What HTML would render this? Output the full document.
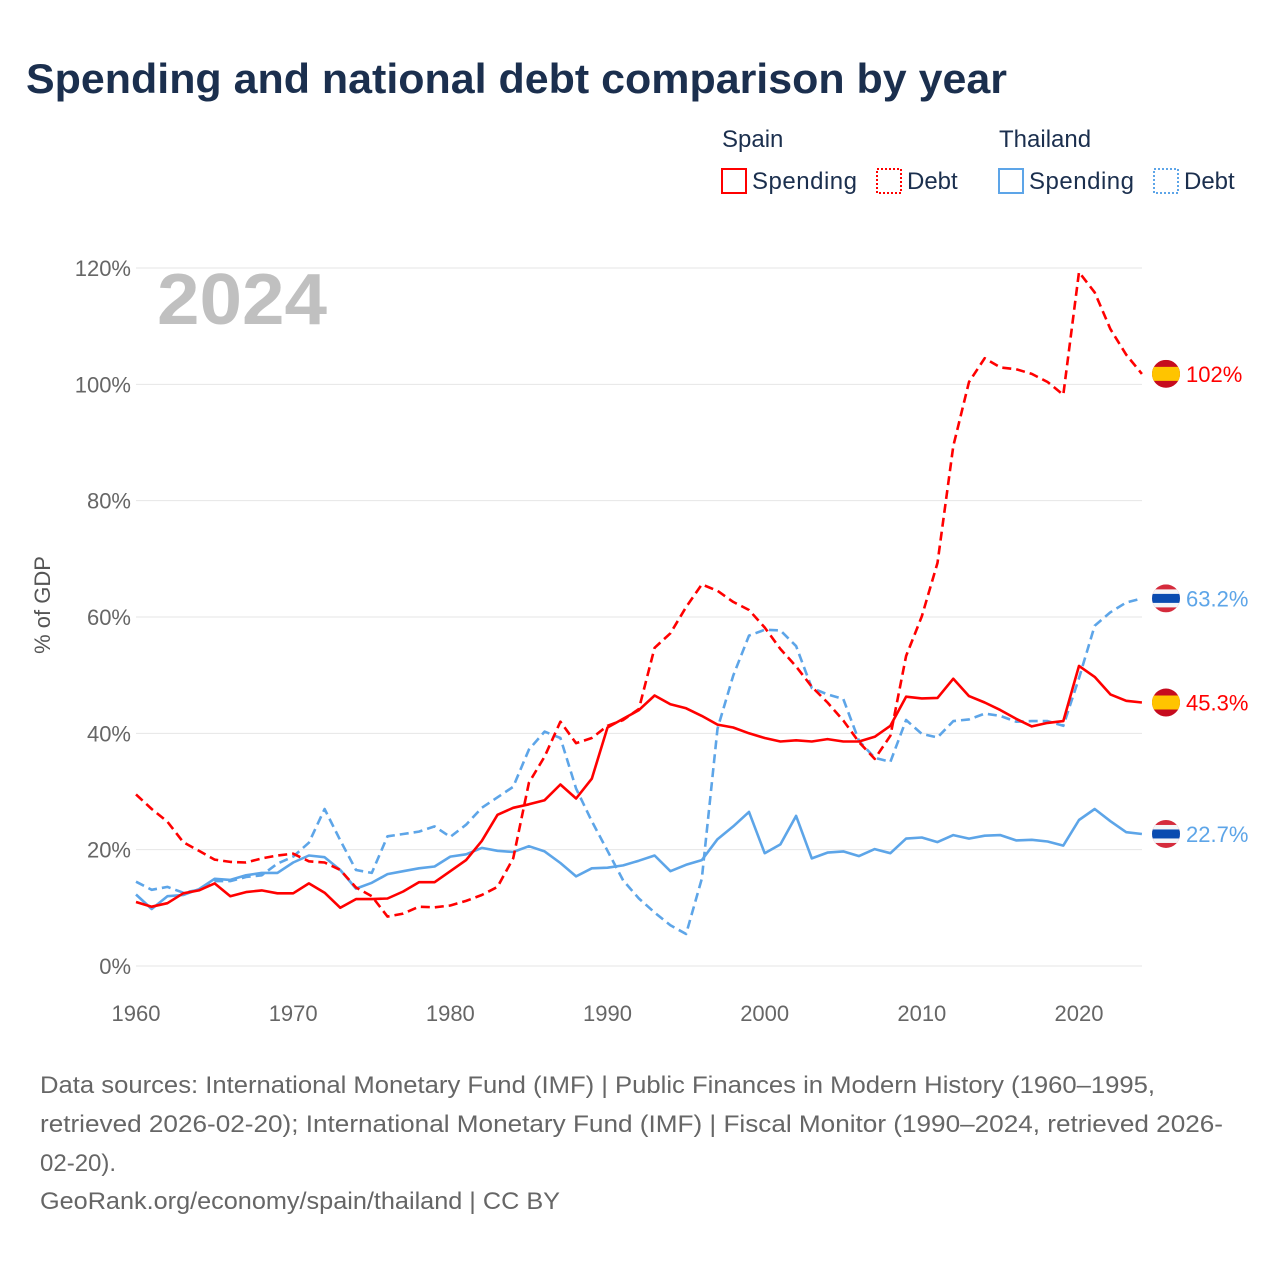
<!DOCTYPE html>
<html><head><meta charset="utf-8"><style>
body{margin:0;background:#fff;width:1280px;height:1280px;overflow:hidden;font-family:"Liberation Sans",sans-serif}
svg text{font-family:"Liberation Sans",sans-serif}
</style></head><body>
<svg id="chart" width="1280" height="1280" viewBox="0 0 1280 1280">
<text x="26" y="93" font-size="42" font-weight="bold" fill="#1b2f4e" textLength="981" lengthAdjust="spacingAndGlyphs">Spending and national debt comparison by year</text>
<g>
<text x="722" y="147" font-size="24" fill="#1b2f4e">Spain</text>
<text x="999" y="147" font-size="24" fill="#1b2f4e">Thailand</text>
<rect x="722" y="169" width="24" height="24" fill="none" stroke="#ff0000" stroke-width="2"/>
<text x="752" y="189" font-size="24" fill="#1b2f4e" textLength="105">Spending</text>
<rect x="877" y="169" width="24" height="24" fill="none" stroke="#ff0000" stroke-width="2" stroke-dasharray="2,2"/>
<text x="907" y="189" font-size="24" fill="#1b2f4e">Debt</text>
<rect x="999" y="169" width="24" height="24" fill="none" stroke="#5da5e8" stroke-width="2"/>
<text x="1029" y="189" font-size="24" fill="#1b2f4e" textLength="105">Spending</text>
<rect x="1154" y="169" width="24" height="24" fill="none" stroke="#5da5e8" stroke-width="2" stroke-dasharray="2,2"/>
<text x="1184" y="189" font-size="24" fill="#1b2f4e">Debt</text>
</g>
<text x="157" y="324" font-size="72" font-weight="bold" fill="#c0c0c0" textLength="170" lengthAdjust="spacingAndGlyphs">2024</text>
<text transform="translate(50,605) rotate(-90)" text-anchor="middle" font-size="22" fill="#555">% of GDP</text>
<g id="grid"></g><g id="series"></g><g id="labels"></g>
<g font-size="24" fill="#666">
<text x="40" y="1093" textLength="1115" lengthAdjust="spacingAndGlyphs">Data sources: International Monetary Fund (IMF) | Public Finances in Modern History (1960–1995,</text>
<text x="40" y="1132" textLength="1183" lengthAdjust="spacingAndGlyphs">retrieved 2026-02-20); International Monetary Fund (IMF) | Fiscal Monitor (1990–2024, retrieved 2026-</text>
<text x="40" y="1171">02-20).</text>
<text x="40" y="1209" textLength="520" lengthAdjust="spacingAndGlyphs">GeoRank.org/economy/spain/thailand | CC BY</text>
</g>
</svg>
<script>
const startYear = 1960;
const yTicks = [0,20,40,60,80,100,120];
const xTicks = [1960,1970,1980,1990,2000,2010,2020];
const spainSpending = [11,10.2,10.8,12.5,13,14.2,12,12.7,13,12.5,12.5,14.2,12.6,10,11.5,11.5,11.6,12.8,14.4,14.4,16.3,18.2,21.5,26,27.2,27.8,28.5,31.2,28.8,32.2,41,42.5,44,46.5,45,44.3,43,41.5,41,40,39.2,38.6,38.8,38.6,39,38.6,38.6,39.4,41.3,46.3,46,46.1,49.4,46.4,45.3,44,42.5,41.2,41.8,42.1,51.6,49.7,46.7,45.6,45.3];
const spainDebt = [29.5,27,24.8,21.3,19.8,18.3,17.9,17.8,18.5,19,19.3,18,17.8,16.5,13.5,12,8.5,9,10.2,10.1,10.4,11.2,12.2,13.6,18.5,31.5,36,42,38.3,39.2,41.3,42.3,44.2,54.7,57.2,61.7,65.6,64.5,62.6,61.2,58.2,54.5,51.5,48,45.3,42.2,38.5,35.6,39.6,53.3,60.1,69.3,89.4,100.4,104.5,102.9,102.6,101.8,100.4,98.2,119.3,115.8,109.5,105.1,101.8];
const thaiSpending = [12.3,9.8,12,12.2,13.2,15,14.8,15.6,16,16,17.8,19,18.7,16.5,13.3,14.3,15.8,16.3,16.8,17.1,18.8,19.2,20.3,19.8,19.6,20.6,19.7,17.7,15.4,16.8,16.9,17.3,18.1,19,16.3,17.4,18.2,21.8,24,26.5,19.4,20.9,25.8,18.5,19.5,19.7,18.9,20.1,19.4,21.9,22.1,21.3,22.5,21.9,22.4,22.5,21.6,21.7,21.4,20.7,25.1,27,24.9,23,22.7];
const thaiDebt = [14.5,13.1,13.6,12.6,13.1,14.6,14.6,15.3,15.6,17.6,18.8,21.2,27,21.6,16.5,16,22.3,22.7,23.1,24,22.2,24.3,27.2,29,30.8,37.2,40.3,39.2,30.5,24.9,19.8,14.7,11.6,9.2,7,5.5,15,40.8,49.9,56.8,57.8,57.7,55,47.8,46.7,45.9,38.7,35.8,35.1,42.3,39.9,39.3,42.1,42.4,43.4,43,42,42.1,42.1,41.3,49.5,58.5,60.8,62.5,63.2];
const endLabels = ["102%","63.2%","45.3%","22.7%"];

const NS="http://www.w3.org/2000/svg";
const X = yr => 136 + (yr-1960)*(1079-136)/60;
const Y = v => 966 - v*(966-268)/120;
function mk(tag, attrs, parent){const e=document.createElementNS(NS,tag);for(const k in attrs)e.setAttribute(k,attrs[k]);parent.appendChild(e);return e;}
const grid=document.getElementById('grid'), ser=document.getElementById('series'), lab=document.getElementById('labels');
yTicks.forEach(t=>{
  const l=mk('line',{x1:136,x2:1142,y1:Y(t),y2:Y(t),stroke:'#e6e6e6','stroke-width':1},grid);
  
  
  const tx=mk('text',{x:131,y:Y(t)+8,'text-anchor':'end','font-size':22,fill:'#666'},grid);
  tx.textContent=t+'%';
  
  
});
xTicks.forEach(t=>{
  const tx=mk('text',{x:X(t),y:1021,'text-anchor':'middle','font-size':22,fill:'#666'},grid);
  tx.textContent=t;
  
  
});
function line(data,color,dash,name){
  const d=data.map((v,i)=>(i?'L':'M')+X(startYear+i).toFixed(1)+','+Y(v).toFixed(1)).join(' ');
  const p=mk('path',{d:d,fill:'none',stroke:color,'stroke-width':2.6,'stroke-linejoin':'round'},ser);
  if(dash)p.setAttribute('stroke-dasharray','9,5');
  
  
}
line(thaiSpending,'#5da5e8',false,'line-thailand-spending');
line(thaiDebt,'#5da5e8',true,'line-thailand-debt');
line(spainSpending,'#ff0000',false,'line-spain-spending');
line(spainDebt,'#ff0000',true,'line-spain-debt');
const ends=[[spainDebt,'#ff0000','es'],[thaiDebt,'#5da5e8','th'],[spainSpending,'#ff0000','es'],[thaiSpending,'#5da5e8','th']];
ends.forEach((e,i)=>{
  const v=e[0][e[0].length-1], y=Y(v), cx=1166;
  const g=mk('g',{},lab);
  
  
  const cid='c'+i;
  const cp=mk('clipPath',{id:cid},g); mk('circle',{cx:cx,cy:y,r:14},cp);
  const f=mk('g',{'clip-path':'url(#'+cid+')'},g);
  if(e[2]==='es'){
    mk('rect',{x:cx-14,y:y-14,width:28,height:28,fill:'#c60b1e'},f);
    mk('rect',{x:cx-14,y:y-7,width:28,height:14,fill:'#ffc400'},f);
  } else {
    mk('rect',{x:cx-14,y:y-14,width:28,height:28,fill:'#d52b3c'},f);
    mk('rect',{x:cx-14,y:y-9,width:28,height:18,fill:'#f4f5f8'},f);
    mk('rect',{x:cx-14,y:y-4.5,width:28,height:9,fill:'#0a4bb0'},f);
  }
  const tx=mk('text',{x:1186,y:y+8,'font-size':22,fill:e[1]},lab);
  tx.textContent=endLabels[i];
  
  
});
</script>
</body></html>
